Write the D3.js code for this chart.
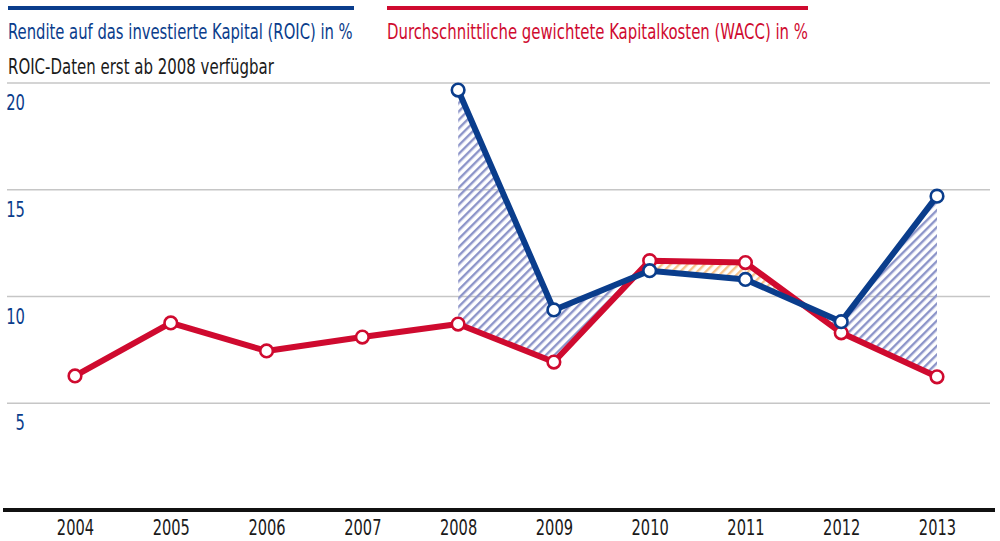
<!DOCTYPE html>
<html>
<head>
<meta charset="utf-8">
<script src="https://cdn.jsdelivr.net/npm/d3@7"></script>
<style>
  body { margin: 0; background: #fff; }
  svg { display: block; }
  text { font-family: "Liberation Sans Narrow", "DejaVu Sans Condensed", "Roboto Condensed", sans-serif; }
</style>
</head>
<body>
<svg id="chart"></svg>
<script>
// data
const years = ['2004', '2005', '2006', '2007', '2008', '2009', '2010', '2011', '2012', '2013'];
const wacc = [6.28, 8.76, 7.45, 8.1, 8.71, 6.93, 11.68, 11.59, 8.3, 6.24];
const roicYears = ['2008', '2009', '2010', '2011', '2012', '2013'];
const roic = [19.67, 9.37, 11.21, 10.8, 8.82, 14.7];
const yTicks = [5, 10, 15, 20];

const legendRoic = 'Rendite auf das investierte Kapital (ROIC) in %';
const legendWacc = 'Durchschnittliche gewichtete Kapitalkosten (WACC) in %';
const note = 'ROIC-Daten erst ab 2008 verfügbar';

const width = 1000;
const height = 541;
const blue = '#0a3d8c';
const red = '#cf0a2f';

const svg = d3.select('#chart').attr('width', width).attr('height', height);

const x = d3.scalePoint().domain(years).range([75, 937]);
const y = d3.scaleLinear().domain([0, 20]).range([510, 83]);

// squeeze a text horizontally so it looks like the condensed face in the original
function condensed(g, str, px, py, size, color, factor, anchor) {
  const t = g.append('text')
    .attr('font-size', size).attr('fill', color)
    .attr('text-anchor', anchor || 'start')
    .attr('transform', `translate(${px},${py}) scale(${factor},1)`)
    .text(str);
  return t;
}

// hatch patterns
const defs = svg.append('defs');
function hatch(id, color) {
  const p = defs.append('pattern')
    .attr('id', id)
    .attr('patternUnits', 'userSpaceOnUse')
    .attr('width', 6).attr('height', 6)
    .attr('patternTransform', 'rotate(45)');
  p.append('rect').attr('x', 0).attr('y', 0).attr('width', 2.4).attr('height', 6).attr('fill', color);
}
hatch('hatchBlue', '#8d95c9');
hatch('hatchOrange', '#f8c48c');

// legend
svg.append('rect').attr('x', 8).attr('y', 6).attr('width', 346).attr('height', 4).attr('fill', blue);
svg.append('rect').attr('x', 387).attr('y', 6).attr('width', 421).attr('height', 4).attr('fill', red);

const legendG = svg.append('g');
const t1 = condensed(legendG, legendRoic, 8, 39, 22, blue, 1);
const t2 = condensed(legendG, legendWacc, 387, 39, 22, red, 1);
const t3 = condensed(legendG, note, 8, 74, 22, '#1a1a1a', 1);
[[t1, 8, 39, 345], [t2, 387, 39, 421], [t3, 8, 74, 266]].forEach(([t, px, py, w]) => {
  const nat = t.node().getComputedTextLength();
  t.attr('transform', `translate(${px},${py}) scale(${w / nat},1)`);
});

// grid lines
svg.append('g').selectAll('line').data(yTicks).enter().append('line')
  .attr('x1', 7).attr('x2', 990)
  .attr('y1', d => y(d)).attr('y2', d => y(d))
  .attr('stroke', '#c6c6c6').attr('stroke-width', 1.5);

// y labels sit below their grid line
const yLab = svg.append('g');
yTicks.forEach(v => condensed(yLab, String(v), 25, y(v) + 27, 21, blue, 0.78, 'end'));

// hatched area between ROIC and WACC
const pairs = roicYears.map((yr, i) => ({ yr, r: roic[i], w: wacc[years.indexOf(yr)] }));
const band = d3.area().x(d => x(d.yr)).y0(d => y(d.w)).y1(d => y(d.r));

const clipAbove = defs.append('clipPath').attr('id', 'above');
clipAbove.append('path').attr('d', d3.area().x(d => x(d.yr)).y0(0).y1(d => y(d.w))(pairs));
const clipBelow = defs.append('clipPath').attr('id', 'below');
clipBelow.append('path').attr('d', d3.area().x(d => x(d.yr)).y0(d => y(d.w)).y1(height)(pairs));

svg.append('path').attr('d', band(pairs)).attr('fill', 'url(#hatchBlue)').attr('clip-path', 'url(#above)');
svg.append('path').attr('d', band(pairs)).attr('fill', 'url(#hatchOrange)').attr('clip-path', 'url(#below)');

// baseline
svg.append('line').attr('x1', 3).attr('x2', 995).attr('y1', 510).attr('y2', 510)
  .attr('stroke', '#111').attr('stroke-width', 4);

// x axis labels
const xAxis = svg.append('g').attr('transform', 'translate(0,512)')
  .call(d3.axisBottom(x).tickSize(0).tickPadding(0));
xAxis.select('.domain').remove();
xAxis.selectAll('text')
  .attr('dy', 0).attr('y', 0)
  .attr('transform', 'translate(0,23) scale(0.74,1)')
  .attr('font-size', 22).attr('fill', '#1a1a1a')
  .style('font-family', '"Liberation Sans Narrow", "DejaVu Sans Condensed", sans-serif');

// series
function drawSeries(xs, vals, color) {
  const pts = xs.map((yr, i) => ({ yr, v: vals[i] }));
  svg.append('path')
    .attr('d', d3.line().x(d => x(d.yr)).y(d => y(d.v))(pts))
    .attr('fill', 'none').attr('stroke', color).attr('stroke-width', 6)
    .attr('stroke-linejoin', 'round');
  svg.append('g').selectAll('circle').data(pts).enter().append('circle')
    .attr('cx', d => x(d.yr)).attr('cy', d => y(d.v)).attr('r', 6.3)
    .attr('fill', '#fff').attr('stroke', color).attr('stroke-width', 2.6);
}
drawSeries(years, wacc, red);
drawSeries(roicYears, roic, blue);
</script>
</body>
</html>
